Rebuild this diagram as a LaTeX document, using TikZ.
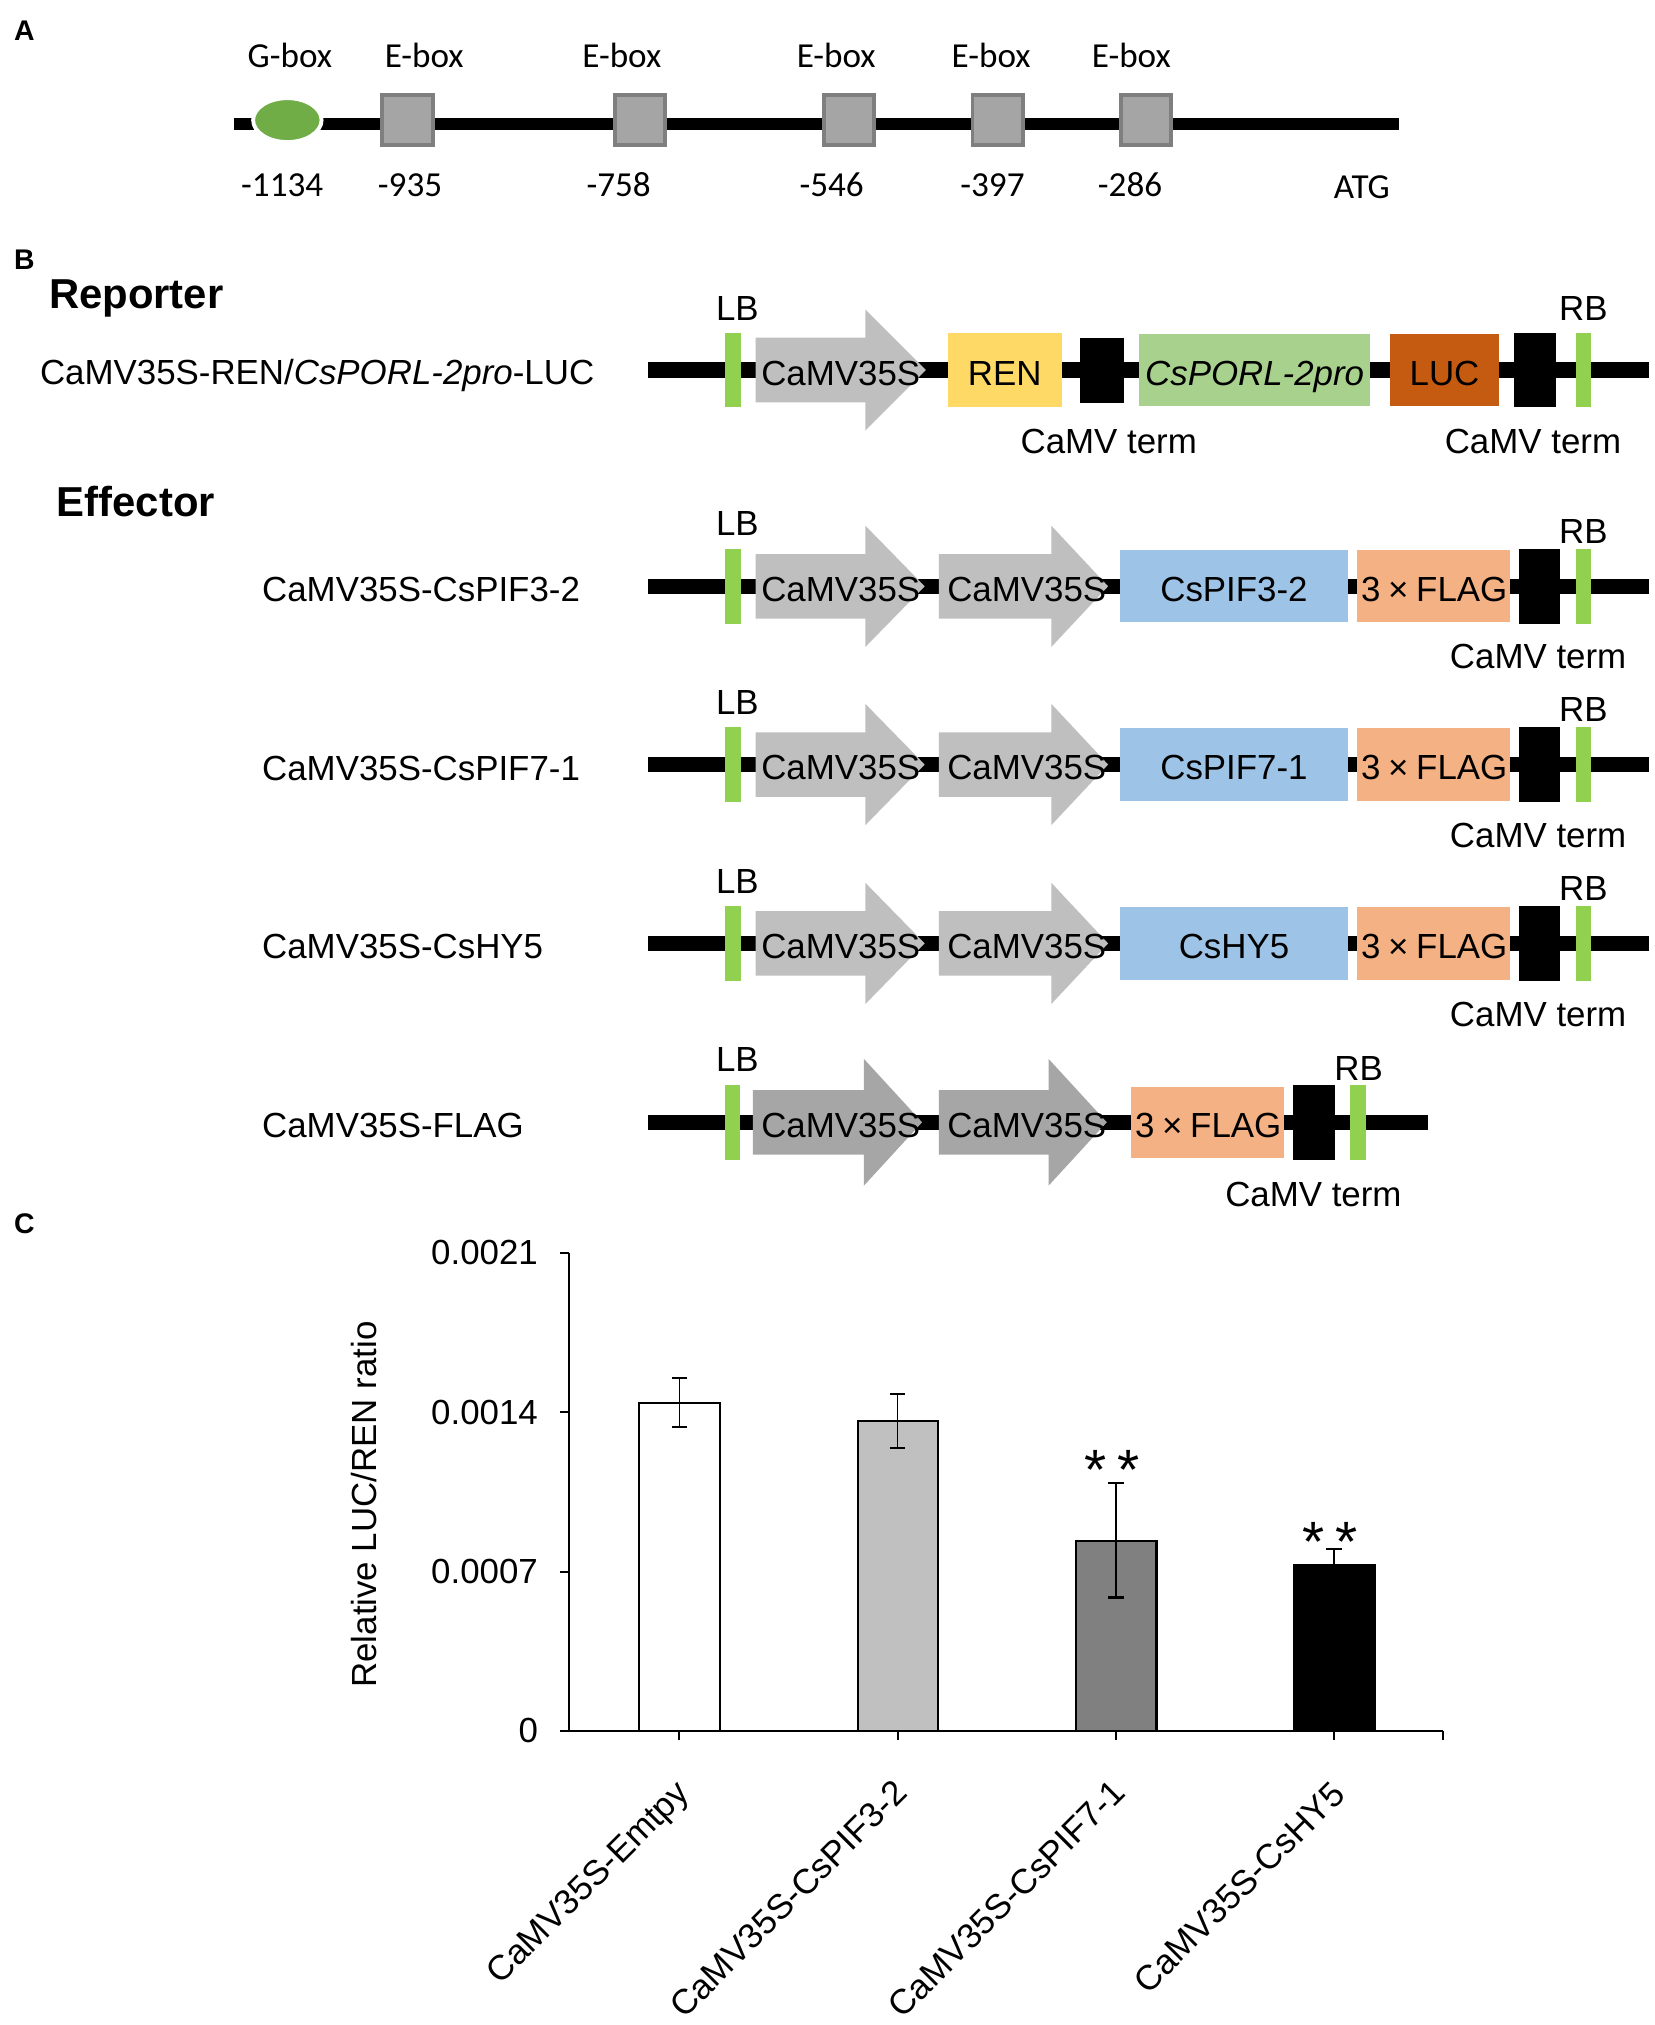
\documentclass[tikz,border=0pt]{standalone}
\usepackage{fontspec}
\setmainfont{Liberation Sans}
\newfontfamily\calibfont{Carlito}
\usetikzlibrary{shapes.geometric}
\definecolor{bargreen}{HTML}{92D050}
\definecolor{gboxgreen}{HTML}{70AD47}
\definecolor{eboxfill}{HTML}{A5A5A5}
\definecolor{eboxline}{HTML}{7F7F7F}
\definecolor{arrowlight}{HTML}{BFBFBF}
\definecolor{arrowdark}{HTML}{A6A6A6}
\definecolor{renyellow}{HTML}{FFD966}
\definecolor{progreen}{HTML}{A9D18E}
\definecolor{lucorange}{HTML}{C55A11}
\definecolor{geneblue}{HTML}{9DC3E6}
\definecolor{flagpeach}{HTML}{F4B183}
\definecolor{bargray}{HTML}{C0C0C0}
\definecolor{bardark}{HTML}{808080}
\newcommand\txtsize{\fontsize{13.5pt}{16pt}\selectfont}
\newcommand\camvarrow[6]{%
  \fill[#6] ({#1},{#4-25}) -- ({#2},{#4-25}) -- ({#2},{#4-#5}) -- ({#3},{#4}) -- ({#2},{#4+#5}) -- ({#2},{#4+25}) -- ({#1},{#4+25}) -- cycle;}
\newcommand\flagtxt{3\kern3pt×\kern3pt FLAG}
\tikzset{
  every node/.style={inner sep=0pt, outer sep=0pt},
  lbl/.style={font=\txtsize, anchor=base},
  lblw/.style={font=\txtsize, anchor=base west},
  albl/.style={font=\calibfont\fontsize{13.6pt}{16pt}\selectfont, anchor=base},
  headtxt/.style={font=\bfseries\fontsize{16.2pt}{19pt}\selectfont, anchor=base west},
  panel/.style={font=\bfseries\fontsize{11pt}{13pt}\selectfont, anchor=base west},
  backbone/.style={line width=6pt},
  axisline/.style={line width=0.8pt},
  errbar/.style={line width=0.6pt},
  errcap/.style={line width=0.9pt},
  stars/.style={font=\fontsize{22pt}{24pt}\selectfont, anchor=base},
}
\begin{document}
\begin{tikzpicture}[x=0.5pt,y=-0.5pt]
\fill[white] (0,0) rectangle (1281,1568);
\useasboundingbox (0,0) rectangle (1281,1568);

% ---------------- Panel A ----------------
\node[panel] (labA) at (11,31) {A};
\coordinate (promL) at (181,96);
\coordinate (promR) at (1083,96);
\draw[line width=5pt] (promL) -- (promR);
\node[ellipse, fill=gboxgreen, draw=white, line width=1.5pt, minimum width=26.5pt, minimum height=17pt] (gbox) at (222.5,93) {};
\foreach \x/\n in {315.5/1, 495.5/2, 657.5/3, 772.5/4, 887.5/5}
  \node[draw=eboxline, fill=eboxfill, line width=1.5pt, minimum width=19.5pt, minimum height=19.5pt] (ebox\n) at (\x,93) {};
\node[albl] (tG) at (224.5,52) {G-box};
\foreach \x/\n in {328.5/1, 481.5/2, 647.5/3, 767.5/4, 876/5}
  \node[albl] (tE\n) at (\x,52) {E-box};
\foreach \x/\t/\n in {218.5/-1134/1, 317.5/-935/2, 479/-758/3, 644/-546/4, 768.5/-397/5, 875/-286/6}
  \node[albl] (pos\n) at (\x,152) {\t};
\node[albl] (atg) at (1054.5,153.5) {ATG};

% ---------------- Panel B ----------------
\node[panel] (labB) at (11,209) {B};
\node[headtxt] (reporter) at (38,239) {Reporter};
\node[lblw] (repname) at (31,297.5) {CaMV35S-REN/\textit{CsPORL-2pro}-LUC};

\coordinate (repL) at (502,286.5);
\coordinate (repR) at (1277,286.5);
\draw[backbone] (repL) -- (repR);
\fill[bargreen] (561,257.5) rectangle (574,315.5);
\camvarrow{585}{670}{717}{286.5}{47}{arrowlight}
\fill[renyellow] (734,258) rectangle (822,315);
\fill[black] (836,262) rectangle (870,312);
\fill[progreen] (882,259) rectangle (1061,314);
\fill[lucorange] (1076,259) rectangle (1161,314);
\fill[black] (1172,257.5) rectangle (1205,315.5);
\fill[bargreen] (1220,257.5) rectangle (1232,315.5);
\node[lbl] (rep35s) at (651,298.5) {CaMV35S};
\node[lbl] (ren) at (778,298.5) {REN};
\node[lbl] (pro) at (971.5,298.5) {\itshape CsPORL-2pro};
\node[lbl] (luc) at (1118.5,298.5) {LUC};
\node[lbl] (repLB) at (571,248) {LB};
\node[lbl] (repRB) at (1226,248) {RB};
\node[lbl] (term1) at (858.5,351.5) {CaMV term};
\node[lbl] (term2) at (1187,351.5) {CaMV term};

\node[headtxt] (effector) at (44,400) {Effector};

\foreach \yc/\gene/\nm in {454/CsPIF3-2/ea, 592/CsPIF7-1/eb, 730.5/CsHY5/ec} {
  \coordinate (\nm-L) at (502,\yc);
  \coordinate (\nm-R) at (1277,\yc);
  \draw[backbone] (\nm-L) -- (\nm-R);
  \fill[bargreen] (561,\yc-29) rectangle (574,\yc+29);
  \camvarrow{585}{670}{716}{\yc}{47}{arrowlight}
  \camvarrow{727}{814}{858}{\yc}{47}{arrowlight}
  \fill[geneblue] (867,\yc-28) rectangle (1044,\yc+28);
  \fill[flagpeach] (1051,\yc-28) rectangle (1169,\yc+28);
  \fill[black] (1176,\yc-29) rectangle (1208,\yc+29);
  \fill[bargreen] (1220,\yc-29) rectangle (1232,\yc+29);
  \node[lblw] (\nm-name) at (203,\yc+12) {CaMV35S-\gene};
  \node[lbl] (\nm-p1) at (651,\yc+11.5) {CaMV35S};
  \node[lbl] (\nm-p2) at (795,\yc+11.5) {CaMV35S};
  \node[lbl] (\nm-gene) at (955.5,\yc+11.5) {\gene};
  \node[lbl] (\nm-flag) at (1110.5,\yc+11.5) {\flagtxt};
  \node[lbl] (\nm-LB) at (571,\yc-39) {LB};
  \node[lbl] (\nm-RB) at (1226,\yc-33) {RB};
  \node[lbl] (\nm-term) at (1191,\yc+64) {CaMV term};
}

\coordinate (ed-L) at (502,869);
\coordinate (ed-R) at (1106,869);
\draw[backbone] (ed-L) -- (ed-R);
\fill[bargreen] (561,840) rectangle (573,898);
\camvarrow{583}{669}{714}{869}{49}{arrowdark}
\camvarrow{727}{812}{857}{869}{49}{arrowdark}
\fill[flagpeach] (876,842) rectangle (994,897);
\fill[black] (1001,840) rectangle (1034,898);
\fill[bargreen] (1045,840) rectangle (1058,898);
\node[lblw] (ed-name) at (203,881) {CaMV35S-FLAG};
\node[lbl] (ed-p1) at (651,880.5) {CaMV35S};
\node[lbl] (ed-p2) at (795,880.5) {CaMV35S};
\node[lbl] (ed-flag) at (935.5,880.5) {\flagtxt};
\node[lbl] (ed-LB) at (571,830) {LB};
\node[lbl] (ed-RB) at (1052,837) {RB};
\node[lbl] (ed-term) at (1017,934) {CaMV term};

% ---------------- Panel C ----------------
\node[panel] (labC) at (11,955) {C};
\coordinate (yTop) at (440.5,970);
\coordinate (orig) at (440.5,1340.3);
\coordinate (xEnd) at (1117,1340.3);
\coordinate (xStart) at (433.5,1340.3);
\draw[axisline] (yTop) -- (orig);
\draw[axisline] (xStart) -- (xEnd);
\foreach \y/\v/\n in {970/0.0021/t3, 1093.5/0.0014/t2, 1217/0.0007/t1, 1340.3/0/t0} {
  \coordinate (\n-a) at (433.5,\y);
  \coordinate (\n-b) at (440.5,\y);
  \draw[axisline] (\n-a) -- (\n-b);
  \node[font=\txtsize, anchor=east] (\n-lab) at (416.5,\y) {\v};
}
\node[font=\txtsize, rotate=90] (ylab) at (282,1165) {Relative LUC/REN ratio};

% bars
\draw[axisline, fill=white] (495,1340.3) rectangle (557.5,1086);
\draw[axisline, fill=bargray] (664,1340.3) rectangle (726.5,1100.5);
\draw[axisline, fill=bardark] (833,1340.3) rectangle (895.5,1193);
\draw[axisline, fill=black] (1002,1340.3) rectangle (1064.5,1211.5);

% error bars
\foreach \x/\lo/\hi/\n in {526/1105/1067/e1, 695/1121.4/1079.4/e2, 864/1237/1148.4/e3, 1033/1223.5/1199.4/e4} {
  \coordinate (\n-lo) at (\x,\lo);
  \coordinate (\n-hi) at (\x,\hi);
  \draw[errbar] (\n-lo) -- (\n-hi);
  \draw[errcap] (\x-6,\lo) -- (\x+6,\lo);
  \draw[errcap] (\x-6,\hi) -- (\x+6,\hi);
}
\node[stars] (st3) at (861,1153) {*\kern4pt*};
\node[stars] (st4) at (1030,1209) {*\kern4pt*};

% x ticks and labels
\foreach \x/\n in {526/x1, 695/x2, 864/x3, 1033/x4, 1117/x5} {
  \coordinate (\n-t) at (\x,1340.3);
  \coordinate (\n-b) at (\x,1347.5);
  \draw[axisline] (\n-t) -- (\n-b);
}
\node[lbl, rotate=45, anchor=base east] (xl1) at (535,1390) {CaMV35S-Emtpy};
\node[lbl, rotate=45, anchor=base east] (xl2) at (704,1390) {CaMV35S-CsPIF3-2};
\node[lbl, rotate=45, anchor=base east] (xl3) at (873,1390) {CaMV35S-CsPIF7-1};
\node[lbl, rotate=45, anchor=base east] (xl4) at (1043,1391) {CaMV35S-CsHY5};
\end{tikzpicture}
\end{document}
